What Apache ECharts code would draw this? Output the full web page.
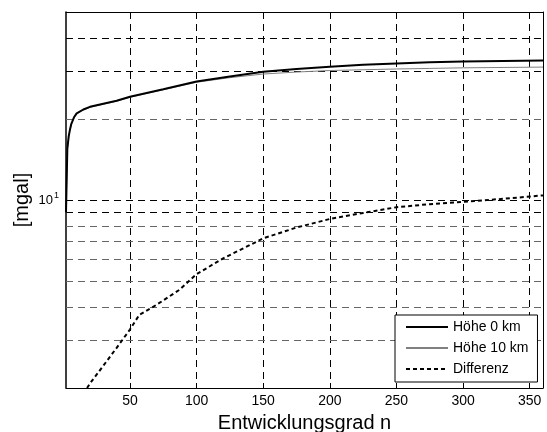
<!DOCTYPE html>
<html>
<head>
<meta charset="utf-8">
<script src="https://cdn.jsdelivr.net/npm/echarts@6/dist/echarts.min.js"></script>
<style>html,body{margin:0;padding:0;background:#fff;}#c{width:547px;height:432px;}</style>
</head>
<body>
<div id="c"></div>
<script>
// Degree n and values [mgal]
const degrees = [2,3,4,5,6,8,10,15,20,30,40,50,75,100,125,150,175,200,225,250,275,300,330,360];
const hoehe0  = [9,15.5,17.2,18.3,19.2,20.3,21.0,21.7,22.2,22.8,23.4,24.2,25.8,27.6,28.8,30.0,30.7,31.3,31.8,32.2,32.5,32.7,32.9,33.0];
const hoehe10 = [9,15.4,17.1,18.2,19.1,20.2,20.9,21.6,22.1,22.7,23.3,24.1,25.7,27.4,28.5,29.4,29.9,30.3,30.5,30.7,30.85,31.0,31.1,31.2];
const degreesDiff = [15,20,30,40,50,57,70,87,100,120,150,175,200,225,250,275,300,330,360];
const differenz   = [1.9,2.08,2.42,2.82,3.3,3.74,4.08,4.63,5.3,6.07,7.2,7.9,8.5,8.95,9.4,9.65,9.85,10.1,10.4];
const xTicks = [50,100,150,200,250,300,350];
const yGridDark = [9,10,30,40];
const yGridLight = [3,4,5,6,7,8,20];
const seriesNames = ['Höhe 0 km','Höhe 10 km','Differenz'];

const zip = (xs, ys) => xs.map((x, i) => [x, ys[i]]);
const font = 'Liberation Sans, Arial, Helvetica, sans-serif';

const gridMarks = []
  .concat(yGridDark.map(v => ({yAxis: v, lineStyle: {color: '#000'}})))
  .concat(yGridLight.map(v => ({yAxis: v, lineStyle: {color: '#666'}})));

const chart = echarts.init(document.getElementById('c'), null, {renderer: 'canvas'});
chart.setOption({
  animation: false,
  backgroundColor: '#fff',
  textStyle: {fontFamily: font, color: '#000'},
  grid: {left: 66, top: 12, right: 4, bottom: 44, containLabel: false, outerBoundsMode: 'none'},
  legend: {
    orient: 'vertical',
    left: 395, top: 315,
    padding: [5, 9, 6, 10],
    itemWidth: 42, itemHeight: 14, itemGap: 7,
    backgroundColor: '#fff',
    borderColor: '#000', borderWidth: 1, borderRadius: 0,
    itemStyle: {opacity: 0},
    textStyle: {fontFamily: font, fontSize: 14, color: '#000'},
    data: seriesNames
  },
  xAxis: [{
    type: 'value', min: 2, max: 360, position: 'bottom',
    name: 'Entwicklungsgrad n', nameLocation: 'middle', nameGap: 25, nameMoveOverlap: false,
    nameTextStyle: {fontFamily: font, fontSize: 20, color: '#000'},
    axisLine: {show: true, onZero: false, lineStyle: {color: '#000', width: 1}},
    axisTick: {show: true, inside: true, length: 5, customValues: xTicks, lineStyle: {color: '#000'}},
    axisLabel: {customValues: xTicks, fontFamily: font, fontSize: 14, color: '#000', margin: 6},
    splitLine: {show: true, lineStyle: {color: '#000', type: [7, 5], width: 1}}
  }, {
    type: 'value', min: 2, max: 360, position: 'top',
    axisLine: {show: true, onZero: false, lineStyle: {color: '#000', width: 1}},
    axisTick: {show: true, inside: true, length: 5, customValues: xTicks, lineStyle: {color: '#000'}},
    axisLabel: {show: false},
    splitLine: {show: false}
  }],
  yAxis: [{
    type: 'log', logBase: 10, min: 2, max: 50, position: 'left',
    name: '[mgal]', nameLocation: 'middle', nameGap: 34, nameRotate: 90, nameMoveOverlap: false,
    nameTextStyle: {fontFamily: font, fontSize: 20, color: '#000'},
    axisLine: {show: true, onZero: false, lineStyle: {color: '#000', width: 1.5}},
    axisTick: {show: false},
    splitLine: {show: false},
    axisLabel: {
      showMinLabel: false, showMaxLabel: false, margin: 7,
      formatter: v => (Math.abs(v - 10) < 1e-6 ? '{b|10}{s|1}' : ''),
      rich: {
        b: {fontFamily: font, fontSize: 13, color: '#000', lineHeight: 18},
        s: {fontFamily: font, fontSize: 9, color: '#000', lineHeight: 9, verticalAlign: 'top', padding: [0, 0, 0, 1]}
      }
    }
  }, {
    type: 'log', logBase: 10, min: 2, max: 50, position: 'right',
    axisLine: {show: true, onZero: false, lineStyle: {color: '#000', width: 1}},
    axisTick: {show: false}, axisLabel: {show: false}, splitLine: {show: false}
  }],
  series: [{
    name: seriesNames[0], type: 'line', data: zip(degrees, hoehe0),
    showSymbol: false, symbol: 'none', smooth: false, clip: true, z: 4,
    lineStyle: {color: '#000', width: 2},
    itemStyle: {color: '#000'},
    markLine: {
      silent: true, symbol: 'none', z: 1, animation: false,
      label: {show: false},
      lineStyle: {type: [7, 5], width: 1},
      emphasis: {disabled: true},
      data: gridMarks
    }
  }, {
    name: seriesNames[1], type: 'line', data: zip(degrees, hoehe10),
    showSymbol: false, symbol: 'none', clip: true, z: 3,
    lineStyle: {color: '#808080', width: 1},
    itemStyle: {color: '#808080'}
  }, {
    name: seriesNames[2], type: 'line', data: zip(degreesDiff, differenz),
    showSymbol: false, symbol: 'none', clip: true, z: 3,
    lineStyle: {color: '#000', width: 2, type: [4, 3]},
    itemStyle: {color: '#000'}
  }]
});
</script>
</body>
</html>
